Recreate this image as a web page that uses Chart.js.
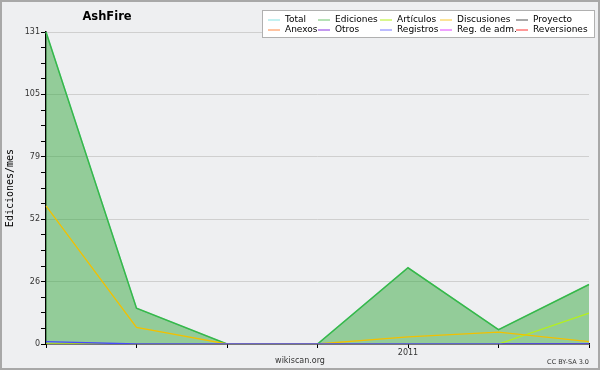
<!DOCTYPE html>
<html><head><meta charset="utf-8">
<script src="https://cdn.jsdelivr.net/npm/chart.js@4/dist/chart.umd.min.js"></script>
<style>html,body{margin:0;padding:0;background:#eeeff1}canvas{display:block}</style></head>
<body><canvas id="c" width="600" height="370"></canvas>
<script>
const chartTitle = 'AshFire';
const months = ['2010-09','2010-10','2010-11','2010-12','2011-01','2011-02','2011-03'];
const xTickLabels = ['','','','','2011','',''];
const yTickLabels = ['0','26','52','79','105','131'];
const yMax = 131;
const total       = [131,15,0,0,32,6,25];
const ediciones   = [131,15,0,0,32,6,25];
const articulos   = [0,0,0,0,0,0,13];
const discusiones = [58,7,0,0,3,5,1];
const proyecto    = [0,0,0,0,0,0,0];
const anexos      = [0,0,0,0,0,0,0];
const otros       = [0,0,0,0,0,0,0];
const registros   = [1,0,0,0,0,0,0];
const regAdm      = [0,0,0,0,0,0,0];
const reversiones = [0,0,0,0,0,0,0];

const FONT = 'DejaVu Sans';
function ds(label, data, color, order, extra){
  return Object.assign({label, data, borderColor: color, backgroundColor: color, borderWidth: 1.3,
    pointRadius: 0, tension: 0, fill: false, order}, extra||{});
}
const datasets = [
  ds('Total', total, '#86e3e3', 12),
  ds('Ediciones', ediciones, '#38b848', 11, {fill: 'origin', backgroundColor: 'rgba(55,170,65,0.5)', borderWidth: 1.5, legendColor:'#6cc46c'}),
  ds('Artículos', articulos, '#b4f01c', 3),
  ds('Discusiones', discusiones, '#f2c000', 2, {legendColor:'#f8c830'}),
  ds('Proyecto', proyecto, '#555555', 9),
  ds('Anexos', anexos, '#ff8844', 9),
  ds('Otros', otros, '#8833e0', 9),
  ds('Registros', registros, '#4848ff', 1, {legendColor:'#7878ff'}),
  ds('Reg. de adm.', regAdm, '#e044ff', 9),
  ds('Reversiones', reversiones, '#ff3333', 9),
];

const decor = {
  id: 'decor',
  beforeDraw(chart){
    const c = chart.ctx;
    c.save();
    c.fillStyle = '#eeeff1';
    c.fillRect(0,0,chart.width,chart.height);
    c.restore();
  },
  afterDraw(chart){
    const c = chart.ctx;
    c.save();
    // outer border
    c.strokeStyle = '#a8a8a8'; c.lineWidth = 2;
    c.strokeRect(1,1,chart.width-2,chart.height-2);
    // title
    c.fillStyle = '#000'; c.font = 'bold 11.5px "' + FONT + '"';
    c.textAlign = 'center'; c.textBaseline = 'middle';
    c.fillText(chartTitle, 107, 17);
    // legend
    c.fillStyle = '#ffffff'; c.strokeStyle = '#b0b0b0'; c.lineWidth = 1;
    c.fillRect(262.5,10.5,332,27); c.strokeRect(262.5,10.5,332,27);
    const colText = [285,335,397,457,533];
    const rowY = [19.5,29.5];
    c.font = '9px "' + FONT + '"'; c.textAlign = 'left';
    chart.data.datasets.forEach((d,i)=>{
      const col = i%5, row = Math.floor(i/5);
      const tx = colText[col], y = rowY[row];
      c.strokeStyle = d.legendColor || d.borderColor; c.lineWidth = 1;
      c.beginPath(); c.moveTo(tx-17, y+0.5); c.lineTo(tx-5, y+0.5); c.stroke();
      c.fillStyle = '#000';
      c.fillText(d.label, tx, y);
    });
    // footer texts
    c.fillStyle = '#333'; c.textAlign = 'center'; c.font = '8px "' + FONT + '"';
    c.fillText('wikiscan.org', 300, 361);
    c.textAlign = 'right'; c.font = '6.5px "' + FONT + '"';
    c.fillText('CC BY-SA 3.0', 589, 362);
    c.restore();
  }
};

new Chart(document.getElementById('c'), {
  type: 'line',
  data: { labels: months, datasets },
  plugins: [decor],
  options: {
    responsive: false, animation: false, devicePixelRatio: 1,
    layout: { padding: { top: 32, right: 11, left: 0, bottom: 0 } },
    plugins: { legend: { display: false }, title: { display: false }, tooltip: { enabled: false } },
    scales: {
      x: {
        type: 'category', offset: false, z: 1,
        grid: { drawOnChartArea: false, drawTicks: true, tickLength: 4, color: '#000', tickColor: '#000' },
        border: { color: '#000', width: 1.5 },
        ticks: { autoSkip: false, maxRotation: 0, padding: 0, color: '#333', font: { family: FONT, size: 8 },
          callback: (v, i) => xTickLabels[i] },
        afterFit: s => { s.height = 26; }
      },
      y: {
        type: 'linear', min: 0, max: yMax,
        afterBuildTicks: s => { s.ticks = Array.from({length: 21}, (_, i) => ({ value: i * yMax / 20 })); },
        grid: {
          color: ctx => (ctx.index % 4 === 0 && ctx.index > 0) ? '#cfcfcf' : 'rgba(0,0,0,0)',
          tickColor: '#000', tickLength: 5, lineWidth: 1
        },
        border: { color: '#000', width: 1.5 },
        ticks: { autoSkip: false, padding: 1, color: '#333', font: { family: FONT, size: 8 },
          callback: (v, i) => (i % 4 === 0 ? yTickLabels[i / 4] : '') },
        title: { display: true, text: 'Ediciones/mes', color: '#000',
          font: { family: 'DejaVu Sans Mono', size: 10 }, padding: { top: 4, bottom: 0 } },
        afterFit: s => { s.width = 46; }
      }
    }
  }
});
</script></body></html>
